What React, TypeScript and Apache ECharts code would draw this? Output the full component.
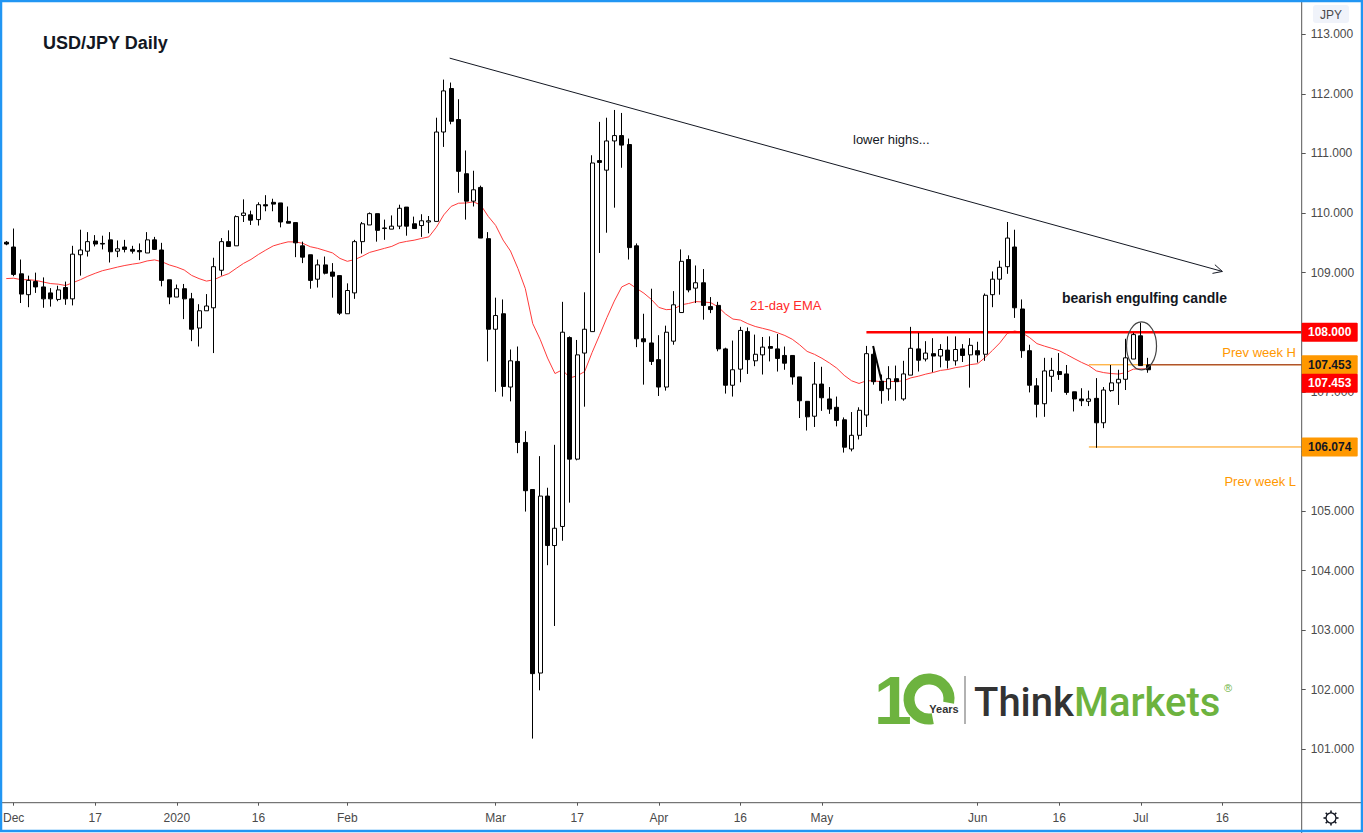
import React, { useEffect, useRef } from "react";
import * as echarts from "echarts";

// Candles as [open, high, low, close]; first candle (index -1) is Fri 29 Nov 2019
const nov19 = [[109.51, 109.53, 109.46, 109.48]];
const dec19 = [
  [109.43, 109.74, 108.94, 108.97], [108.98, 109.22, 108.49, 108.64], [108.63, 108.95, 108.42, 108.87],
  [108.85, 109.0, 108.66, 108.76], [108.76, 108.92, 108.41, 108.56], [108.66, 108.74, 108.43, 108.56],
  [108.55, 108.78, 108.52, 108.71], [108.75, 108.85, 108.46, 108.56], [108.56, 109.45, 108.45, 109.31],
  [109.3, 109.72, 108.95, 109.38], [109.36, 109.68, 109.27, 109.52], [109.53, 109.63, 109.44, 109.48],
  [109.49, 109.62, 109.39, 109.48], [109.55, 109.68, 109.17, 109.35], [109.36, 109.54, 109.26, 109.4],
  [109.43, 109.55, 109.34, 109.39], [109.39, 109.45, 109.32, 109.36], [109.37, 109.49, 109.21, 109.35],
  [109.33, 109.68, 109.33, 109.55], [109.55, 109.6, 109.38, 109.39], [109.38, 109.5, 108.77, 108.87],
  [108.88, 108.88, 108.47, 108.59],
];
const jan20 = [
  [108.59, 108.8, 108.59, 108.73], [108.73, 108.81, 108.22, 108.56], [108.56, 108.66, 107.85, 108.05],
  [108.07, 108.47, 107.76, 108.36], [108.36, 108.64, 108.36, 108.44], [108.41, 109.25, 107.65, 109.1],
  [109.04, 109.58, 108.95, 109.52], [109.52, 109.71, 109.43, 109.44], [109.45, 109.96, 109.45, 109.94],
  [109.96, 110.23, 109.85, 110.0], [109.97, 110.04, 109.8, 109.88], [109.89, 110.18, 109.79, 110.14],
  [110.14, 110.3, 110.03, 110.12], [110.18, 110.24, 110.03, 110.15], [110.17, 110.17, 109.76, 109.85],
  [109.86, 110.11, 109.83, 109.83], [109.84, 109.84, 109.26, 109.5], [109.45, 109.52, 109.16, 109.26],
  [109.3, 109.3, 108.73, 108.87], [108.89, 109.22, 108.75, 109.13], [109.13, 109.27, 108.97, 108.99],
  [109.01, 109.16, 108.58, 108.94], [108.95, 108.95, 108.29, 108.32],
];
const feb20 = [
  [108.31, 108.82, 108.31, 108.7], [108.66, 109.55, 108.56, 109.52], [109.52, 109.85, 109.32, 109.82],
  [109.8, 110.01, 109.8, 109.99], [109.99, 109.99, 109.52, 109.71], [109.74, 109.89, 109.55, 109.75],
  [109.73, 109.96, 109.73, 109.78], [109.78, 110.14, 109.73, 110.08], [110.1, 110.1, 109.62, 109.78],
  [109.82, 109.94, 109.74, 109.74], [109.79, 109.98, 109.6, 109.87], [109.85, 109.95, 109.66, 109.87],
  [109.86, 111.6, 109.86, 111.36], [111.36, 112.24, 111.11, 112.05], [112.09, 112.19, 111.49, 111.54],
  [111.57, 111.91, 110.34, 110.7], [110.66, 111.05, 109.89, 110.2], [110.2, 110.71, 110.11, 110.39],
  [110.43, 110.46, 109.58, 109.58], [109.57, 109.68, 107.51, 108.05],
];
const mar20 = [
  [108.05, 108.58, 107.0, 108.28], [108.31, 108.55, 106.92, 107.09], [107.08, 107.71, 106.84, 107.52],
  [107.51, 107.76, 105.97, 106.15], [106.15, 106.34, 104.99, 105.34], [105.36, 105.36, 101.18, 102.27],
  [102.28, 105.92, 101.99, 105.25], [105.25, 105.39, 104.09, 104.42], [104.42, 106.11, 103.07, 104.71],
  [104.74, 108.51, 104.5, 108.0], [107.91, 107.93, 105.14, 105.87], [105.87, 107.87, 105.85, 107.62],
  [107.65, 108.67, 106.75, 108.05], [108.01, 110.97, 108.01, 110.84], [110.88, 111.53, 109.33, 110.85],
  [110.72, 111.6, 109.67, 111.21], [111.21, 111.73, 110.09, 111.3], [111.3, 111.68, 110.76, 111.14],
  [111.15, 111.25, 109.22, 109.42], [109.45, 109.49, 107.75, 107.89], [107.89, 108.31, 107.12, 107.84],
  [107.82, 108.73, 107.45, 107.51],
];
const apr20 = [
  [107.54, 107.95, 106.93, 107.08], [107.08, 108.11, 107.02, 108.0], [107.85, 108.69, 107.79, 108.46],
  [108.33, 109.39, 108.33, 109.19], [109.22, 109.29, 108.67, 108.71], [108.74, 109.12, 108.49, 108.83],
  [108.83, 109.06, 108.21, 108.45], [108.43, 108.59, 108.32, 108.38], [108.45, 108.51, 107.68, 107.72],
  [107.72, 107.74, 106.97, 107.11], [107.11, 107.86, 106.92, 107.37], [107.38, 108.09, 107.16, 108.03],
  [108.01, 108.08, 107.3, 107.54], [107.52, 107.96, 107.43, 107.63], [107.62, 107.92, 107.29, 107.75],
  [107.76, 107.93, 107.51, 107.73], [107.72, 107.97, 107.34, 107.56], [107.61, 107.76, 107.37, 107.48],
  [107.61, 107.61, 107.12, 107.25], [107.25, 107.25, 106.56, 106.85], [106.84, 106.84, 106.35, 106.58],
  [106.59, 107.5, 106.41, 107.13],
];
const may20 = [
  [107.13, 107.42, 106.68, 106.9], [106.88, 107.08, 106.63, 106.71], [106.74, 106.92, 106.42, 106.52],
  [106.53, 106.57, 105.98, 106.07], [106.04, 106.66, 106.0, 106.27], [106.27, 106.74, 106.2, 106.69],
  [106.61, 107.77, 106.41, 107.64], [107.63, 107.76, 107.12, 107.17], [107.18, 107.29, 106.8, 107.02],
  [107.05, 107.43, 106.85, 107.22], [107.22, 107.44, 106.85, 107.17], [106.88, 107.52, 106.85, 107.3],
  [107.28, 108.09, 107.28, 107.73], [107.72, 107.99, 107.34, 107.53], [107.55, 107.85, 107.51, 107.65],
  [107.64, 107.9, 107.33, 107.6], [107.6, 107.8, 107.41, 107.71], [107.7, 107.93, 107.39, 107.53],
  [107.52, 107.93, 107.44, 107.71], [107.72, 107.8, 107.5, 107.61], [107.62, 107.9, 107.07, 107.78],
];
const jun20 = [
  [107.69, 107.84, 107.49, 107.62], [107.63, 108.65, 107.52, 108.62], [108.63, 109.02, 108.42, 108.89],
  [108.89, 109.2, 108.63, 109.09], [109.1, 109.85, 108.98, 109.58], [109.43, 109.72, 108.24, 108.41],
  [108.39, 108.55, 107.57, 107.69], [107.69, 107.79, 106.99, 107.11], [107.1, 107.23, 106.57, 106.79],
  [106.8, 107.57, 106.58, 107.35], [107.26, 107.57, 107.0, 107.36], [107.34, 107.65, 107.2, 107.29],
  [107.3, 107.45, 106.95, 106.99], [107.0, 107.0, 106.67, 106.88], [106.88, 107.06, 106.76, 106.85],
  [106.84, 107.02, 106.76, 106.88], [106.89, 107.23, 106.06, 106.48], [106.48, 107.08, 106.39, 107.03],
  [107.02, 107.45, 107.0, 107.15], [107.15, 107.37, 106.78, 107.21], [107.21, 107.89, 107.03, 107.57],
  [107.55, 107.99, 107.55, 107.96],
];
const jul20 = [
  [107.94, 108.16, 107.44, 107.44], [107.45, 107.57, 107.32, 107.37],
];

const firstIndex = -1; // index of the first candle on the x scale
const xMin = -1;
const xMax = 173.7;
const yMin = 100.104;
const yMax = 113.542;

const xTickIdx = [0, 11, 22, 33, 45, 65, 76, 87, 98, 109, 130, 141, 152, 163];
const xTickLabels = ["Dec", "17", "2020", "16", "Feb", "Mar", "17", "Apr", "16", "May", "Jun", "16", "Jul", "16"];
const yTicks = [101, 102, 103, 104, 105, 106, 107, 108, 109, 110, 111, 112, 113];
// 106.000 and 108.000 sit fully under price tags in the reference, so their labels are not shown
const yLabelTicks = [101, 102, 103, 104, 105, 107, 109, 110, 111, 112, 113];

const emaPeriod = 21;
const emaSeed = 108.9;

const resistanceLevel = 108.0;
const resistanceStart = 115;
const prevWeekHigh = 107.453;
const prevWeekLow = 106.074;
const prevWeekStart = 145;
const lastPrice = 107.453;
const lastIndex = 153;
const trendLine = [[58.8, 112.6], [163, 109.02]];
const markStroke = [[115.9, 107.77], [117.0, 107.2]];
const engulfCenter = [152.1, 107.77];

const tagTexts = ["108.000", "107.453", "107.453", "106.074"];

const FONT = "'Liberation Sans', Arial, sans-serif";

export default function App() {
  const ref = useRef<HTMLDivElement>(null);

  useEffect(() => {
    if (!ref.current) return;
    const chart = echarts.init(ref.current, undefined, { renderer: "svg" });

    const candles = [...nov19, ...dec19, ...jan20, ...feb20, ...mar20, ...apr20, ...may20, ...jun20, ...jul20];
    const candleData = candles.map((c, i) => [i + firstIndex, c[0], c[3], c[2], c[1]]);

    const k = 2 / (emaPeriod + 1);
    let e = emaSeed;
    const emaData = candles.map((c, i) => {
      if (i > 0) e = e + k * (c[3] - e);
      return [i + firstIndex, +e.toFixed(4)];
    });

    const labelMap: Record<number, string> = {};
    xTickIdx.forEach((v, i) => (labelMap[v] = xTickLabels[i]));

    const option: any = {
      animation: false,
      backgroundColor: "#ffffff",
      grid: { left: 2, right: 61.3, top: 2, bottom: 30.3, containLabel: false },
      xAxis: {
        type: "value",
        min: xMin,
        max: xMax,
        axisLine: { show: false, onZero: false },
        axisTick: { show: true, length: 3, customValues: xTickIdx, lineStyle: { color: "#555" } },
        axisLabel: {
          customValues: xTickIdx,
          formatter: (v: number) => labelMap[Math.round(v)] ?? "",
          color: "#4a4a4a",
          fontSize: 12,
          fontFamily: FONT,
          margin: 9,
        },
        splitLine: { show: false },
      },
      yAxis: {
        type: "value",
        position: "right",
        min: yMin,
        max: yMax,
        axisLine: { show: false, onZero: false },
        axisTick: { show: true, length: 4, customValues: yTicks, lineStyle: { color: "#555" } },
        axisLabel: {
          customValues: yLabelTicks,
          formatter: (v: number) => v.toFixed(3),
          color: "#4a4a4a",
          fontSize: 12,
          fontFamily: FONT,
          margin: 9,
        },
        splitLine: { show: false },
      },
      series: [
        {
          type: "line",
          data: emaData,
          showSymbol: false,
          symbol: "none",
          lineStyle: { color: "#ff3b3b", width: 1 },
          z: 1,
        },
        {
          type: "line",
          data: [[resistanceStart, resistanceLevel], [xMax, resistanceLevel]],
          symbol: "none",
          lineStyle: { color: "#ff0000", width: 2.5 },
          z: 2,
        },
        {
          type: "line",
          data: [[prevWeekStart, prevWeekHigh], [xMax, prevWeekHigh]],
          symbol: "none",
          lineStyle: { color: "#ff9800", width: 1 },
          z: 2,
        },
        {
          type: "line",
          data: [[lastIndex, lastPrice], [xMax, lastPrice]],
          symbol: "none",
          lineStyle: { color: "#8d2b20", width: 1 },
          z: 2,
        },
        {
          type: "line",
          data: [[prevWeekStart, prevWeekLow], [xMax, prevWeekLow]],
          symbol: "none",
          lineStyle: { color: "#ff9800", width: 1 },
          z: 2,
        },
        {
          type: "line",
          data: trendLine,
          symbol: "none",
          lineStyle: { color: "#131722", width: 1 },
          z: 2,
        },
        {
          type: "line",
          data: markStroke,
          symbol: "none",
          lineStyle: { color: "#000", width: 2 },
          z: 4,
        },
        {
          type: "candlestick",
          data: candleData,
          encode: { x: 0, y: [1, 2, 3, 4] },
          barWidth: 4.5,
          itemStyle: {
            color: "#ffffff",
            color0: "#000000",
            borderColor: "#000000",
            borderColor0: "#000000",
            borderWidth: 1,
          },
          z: 3,
        },
      ],
    };
    chart.setOption(option);

    const px = (x: number, y: number) => chart.convertToPixel({ gridIndex: 0 }, [x, y]) as number[];
    const axisX = px(xMax, yMin)[0];
    const axisY = px(xMax, yMin)[1];

    const s = px(trendLine[0][0], trendLine[0][1]);
    const p = px(trendLine[1][0], trendLine[1][1]);
    const dx = p[0] - s[0], dy = p[1] - s[1];
    const len = Math.hypot(dx, dy);
    const ux = dx / len, uy = dy / len;
    const nx = -uy, ny = ux;
    const arrow = [
      [p[0] - 9 * ux + 4.5 * nx, p[1] - 9 * uy + 4.5 * ny],
      [p[0], p[1]],
      [p[0] - 9 * ux - 4.5 * nx, p[1] - 9 * uy - 4.5 * ny],
    ];

    const ec = px(engulfCenter[0], engulfCenter[1]);
    const yRes = px(0, resistanceLevel)[1];
    const yPH = px(0, prevWeekHigh)[1];
    const yPL = px(0, prevWeekLow)[1];

    const tag = (y: number, text: string, bg: string, color: string) => ({
      type: "group",
      z: 100,
      children: [
        { type: "rect", shape: { x: axisX, y: y - 9.5, width: 56, height: 19, r: 1 }, style: { fill: bg }, z: 100 },
        {
          type: "text",
          x: axisX + 28,
          y,
          z: 101,
          style: { text, fill: color, font: `bold 12px ${FONT}`, textAlign: "center", textVerticalAlign: "middle" },
        },
      ],
    });

    const gearTeeth = Array.from({ length: 8 }, (_, i) => {
      const a = (i * Math.PI) / 4;
      return {
        type: "line",
        shape: { x1: 1331 + 5 * Math.cos(a), y1: 818 + 5 * Math.sin(a), x2: 1331 + 7.5 * Math.cos(a), y2: 818 + 7.5 * Math.sin(a) },
        style: { stroke: "#131722", lineWidth: 1.6 },
        z: 100,
      };
    });

    const green = "#6db33f";

    chart.setOption({
      graphic: [
        // axis lines
        { type: "line", shape: { x1: 0, y1: axisY, x2: 1363, y2: axisY }, style: { stroke: "#555", lineWidth: 1 }, z: 50 },
        { type: "line", shape: { x1: axisX, y1: 0, x2: axisX, y2: 833 }, style: { stroke: "#555", lineWidth: 1 }, z: 50 },
        // trend line arrow
        { type: "polyline", shape: { points: arrow }, style: { stroke: "#131722", lineWidth: 1, fill: "none" }, z: 60 },
        // engulfing ellipse
        { type: "ellipse", shape: { cx: ec[0], cy: ec[1], rx: 15, ry: 24 }, style: { stroke: "#444", lineWidth: 1.2, fill: "none" }, z: 60 },
        // title & annotations
        { type: "text", x: 43, y: 43, style: { text: "USD/JPY Daily", fill: "#131722", font: `bold 18px ${FONT}`, textVerticalAlign: "middle" }, z: 60 },
        { type: "text", x: 853, y: 139, style: { text: "lower highs...", fill: "#131722", font: `13px ${FONT}`, textVerticalAlign: "middle" }, z: 60 },
        { type: "text", x: 750, y: 305, style: { text: "21-day EMA", fill: "#ff2a2a", font: `13px ${FONT}`, textVerticalAlign: "middle" }, z: 60 },
        { type: "text", x: 1062, y: 298, style: { text: "bearish engulfing candle", fill: "#131722", font: `bold 14px ${FONT}`, textVerticalAlign: "middle" }, z: 60 },
        { type: "text", x: 1296, y: yPH - 12, style: { text: "Prev week H", fill: "#ff9800", font: `13px ${FONT}`, textAlign: "right", textVerticalAlign: "middle" }, z: 60 },
        { type: "text", x: 1296, y: yPL + 35, style: { text: "Prev week L", fill: "#ff9800", font: `13px ${FONT}`, textAlign: "right", textVerticalAlign: "middle" }, z: 60 },
        // price tags
        tag(yRes, tagTexts[0], "#ff0000", "#ffffff"),
        tag(yPH, tagTexts[1], "#ff9800", "#131722"),
        tag(yPH + 18.5, tagTexts[2], "#ff0000", "#ffffff"),
        tag(yPL, tagTexts[3], "#ff9800", "#131722"),
        // currency box
        { type: "rect", shape: { x: 1313, y: 5, width: 36, height: 18, r: 3 }, style: { fill: "#f0f3fa" }, z: 60 },
        { type: "text", x: 1331, y: 14.5, style: { text: "JPY", fill: "#4a4a4a", font: `12px ${FONT}`, textAlign: "center", textVerticalAlign: "middle" }, z: 61 },
        // gear
        { type: "circle", shape: { cx: 1331, cy: 818, r: 5 }, style: { stroke: "#131722", lineWidth: 1.3, fill: "#fff" }, z: 100 },
        ...gearTeeth,
        // logo
        { type: "text", x: 874, y: 700, style: { text: "1", fill: green, font: `bold 68px ${FONT}`, textVerticalAlign: "middle" }, z: 60 },
        {
          type: "arc",
          shape: { cx: 929, cy: 699, r: 20, startAngle: Math.PI * 0.44, endAngle: Math.PI * 2.06, clockwise: true },
          style: { stroke: green, lineWidth: 11, fill: "none" },
          z: 60,
        },
        { type: "text", x: 944, y: 709, style: { text: "Years", fill: "#333", font: `bold 11px ${FONT}`, textAlign: "center", textVerticalAlign: "middle" }, z: 61 },
        { type: "line", shape: { x1: 965, y1: 676, x2: 965, y2: 724 }, style: { stroke: "#999", lineWidth: 1.5 }, z: 60 },
        {
          type: "text",
          x: 974,
          y: 702,
          style: {
            text: "{a|Think}{b|Markets}",
            textVerticalAlign: "middle",
            rich: {
              a: { fill: "#333333", font: `500 40px Roboto, ${FONT}` },
              b: { fill: green, font: `500 40px Roboto, ${FONT}` },
            },
          },
          z: 60,
        },
        { type: "text", x: 1224, y: 688, style: { text: "®", fill: green, font: `11px ${FONT}`, textVerticalAlign: "middle" }, z: 60 },
        // frame
        { type: "rect", shape: { x: 1, y: 1, width: 1361, height: 830 }, style: { stroke: "#2196f3", lineWidth: 2.5, fill: "none" }, z: 200 },
      ],
    });

    return () => chart.dispose();
  }, []);

  return (
    <div
      ref={ref}
      style={{ position: "absolute", left: 0, top: 0, width: 1363, height: 833, background: "#fff" }}
    />
  );
}
